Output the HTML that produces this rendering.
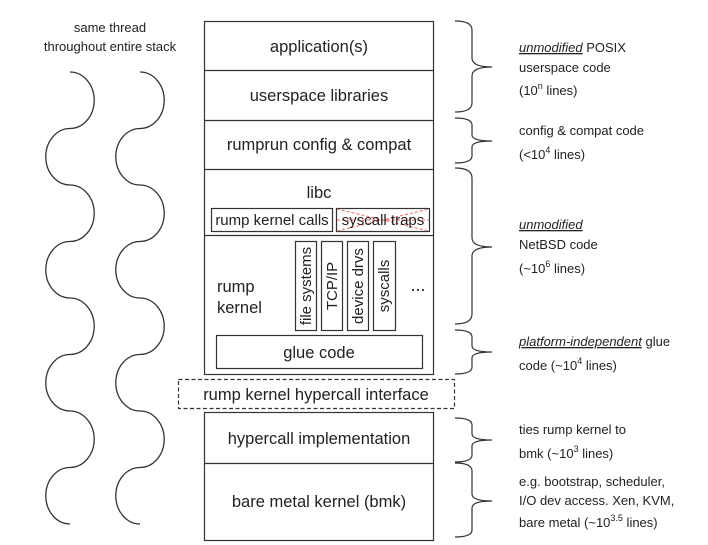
<!DOCTYPE html>
<html><head><style>
html,body{margin:0;padding:0;background:#fff;}
svg{display:block;}
text{font-family:"Liberation Sans",sans-serif;fill:#222;}
</style></head><body>
<svg width="708" height="545" viewBox="0 0 708 545" xmlns="http://www.w3.org/2000/svg">
<g fill="none" stroke="#333" stroke-width="1.3">
<path d="M70 72 a24 28 0 0 1 0 56.5 a24 28 0 0 0 0 56.5 a24 28 0 0 1 0 56.5 a24 28 0 0 0 0 56.5 a24 28 0 0 1 0 56.5 a24 28 0 0 0 0 56.5 a24 28 0 0 1 0 56.5 a24 28 0 0 0 0 56.5"/>
<path d="M140 72 a24 28 0 0 1 0 56.5 a24 28 0 0 0 0 56.5 a24 28 0 0 1 0 56.5 a24 28 0 0 0 0 56.5 a24 28 0 0 1 0 56.5 a24 28 0 0 0 0 56.5 a24 28 0 0 1 0 56.5 a24 28 0 0 0 0 56.5"/>
</g>
<text x="110" y="32" font-size="13" text-anchor="middle">same thread</text>
<text x="110" y="51" font-size="13" text-anchor="middle">throughout entire stack</text>

<g fill="none" stroke="#333" stroke-width="1.2">
<rect x="204.5" y="21.5" width="229" height="353"/>
<line x1="204" y1="70.5" x2="433" y2="70.5"/>
<line x1="204" y1="120.5" x2="433" y2="120.5"/>
<line x1="204" y1="169.5" x2="433" y2="169.5"/>
<line x1="204" y1="235.5" x2="433" y2="235.5"/>
<rect x="211.5" y="208.5" width="121" height="23"/>
<rect x="336.5" y="208.5" width="93" height="23"/>
<rect x="295.5" y="241.5" width="21" height="89"/>
<rect x="321.5" y="241.5" width="21" height="89"/>
<rect x="347.5" y="241.5" width="21" height="89"/>
<rect x="373.5" y="241.5" width="22" height="89"/>
<rect x="216.5" y="335.5" width="206" height="33"/>
<rect x="178.5" y="379.5" width="276" height="29" stroke-dasharray="4,2.5"/>
<rect x="204.5" y="412.5" width="229" height="128"/>
<line x1="204" y1="463.5" x2="433" y2="463.5"/>
</g>
<g stroke="#e66" stroke-width="1" stroke-dasharray="3,2" fill="none">
<line x1="337" y1="209" x2="429" y2="231"/>
<line x1="337" y1="231" x2="429" y2="209"/>
<line x1="337" y1="220" x2="429" y2="220"/>
</g>

<g font-size="16.5" text-anchor="middle">
<text x="319" y="52">application(s)</text>
<text x="319" y="101">userspace libraries</text>
<text x="319" y="150">rumprun config &amp; compat</text>
<text x="319" y="198">libc</text>
<text x="319" y="358">glue code</text>
<text x="316" y="400">rump kernel hypercall interface</text>
<text x="319" y="444">hypercall implementation</text>
<text x="319" y="507">bare metal kernel (bmk)</text>
</g>
<text x="272" y="225" font-size="15" text-anchor="middle">rump kernel calls</text>
<text x="383" y="225" font-size="15" text-anchor="middle">syscall traps</text>
<text x="217" y="292" font-size="16.5">rump</text>
<text x="217" y="313" font-size="16.5">kernel</text>
<text x="418" y="291" font-size="18" text-anchor="middle">...</text>
<g font-size="15" text-anchor="middle">
<text transform="translate(311,286) rotate(-90)">file systems</text>
<text transform="translate(337,286) rotate(-90)">TCP/IP</text>
<text transform="translate(363,286) rotate(-90)">device drvs</text>
<text transform="translate(389,286) rotate(-90)">syscalls</text>
</g>

<g fill="none" stroke="#333" stroke-width="1.2">
<path d="M455 21 Q472 21 472 30 L472 58 Q472 67 492 67 Q472 67 472 76 L472 103 Q472 112 455 112"/>
<path d="M455 118 Q472 118 472 125 L472 135 Q472 141 492 141 Q472 141 472 147 L472 156 Q472 163 455 163"/>
<path d="M455 168 Q472 168 472 178 L472 238 Q472 247 492 247 Q472 247 472 256 L472 314 Q472 324 455 324"/>
<path d="M455 330 Q472 330 472 337 L472 346 Q472 352 492 352 Q472 352 472 358 L472 367 Q472 374 455 374"/>
<path d="M455 418 Q472 418 472 425 L472 434 Q472 440 492 440 Q472 440 472 446 L472 455 Q472 462 455 462"/>
<path d="M455 463 Q472 463 472 471 L472 494 Q472 501 492 501 Q472 501 472 508 L472 530 Q472 537 455 537"/>
</g>

<g font-size="13">
<text x="519" y="52"><tspan font-style="italic" text-decoration="underline">unmodified</tspan> POSIX</text>
<text x="519" y="72">userspace code</text>
<text x="519" y="95">(10<tspan font-size="9" dy="-6">n</tspan><tspan dy="6"> lines)</tspan></text>
<text x="519" y="135">config &amp; compat code</text>
<text x="519" y="159">(&lt;10<tspan font-size="9" dy="-6">4</tspan><tspan dy="6"> lines)</tspan></text>
<text x="519" y="229"><tspan font-style="italic" text-decoration="underline">unmodified</tspan></text>
<text x="519" y="249">NetBSD code</text>
<text x="519" y="273">(~10<tspan font-size="9" dy="-6">6</tspan><tspan dy="6"> lines)</tspan></text>
<text x="519" y="346"><tspan font-style="italic" text-decoration="underline">platform-independent</tspan> glue</text>
<text x="519" y="370">code (~10<tspan font-size="9" dy="-6">4</tspan><tspan dy="6"> lines)</tspan></text>
<text x="519" y="434">ties rump kernel to</text>
<text x="519" y="458">bmk (~10<tspan font-size="9" dy="-6">3</tspan><tspan dy="6"> lines)</tspan></text>
<text x="519" y="486">e.g. bootstrap, scheduler,</text>
<text x="519" y="505">I/O dev access. Xen, KVM,</text>
<text x="519" y="527">bare metal (~10<tspan font-size="9" dy="-6">3.5</tspan><tspan dy="6"> lines)</tspan></text>
</g>
</svg>
</body></html>
